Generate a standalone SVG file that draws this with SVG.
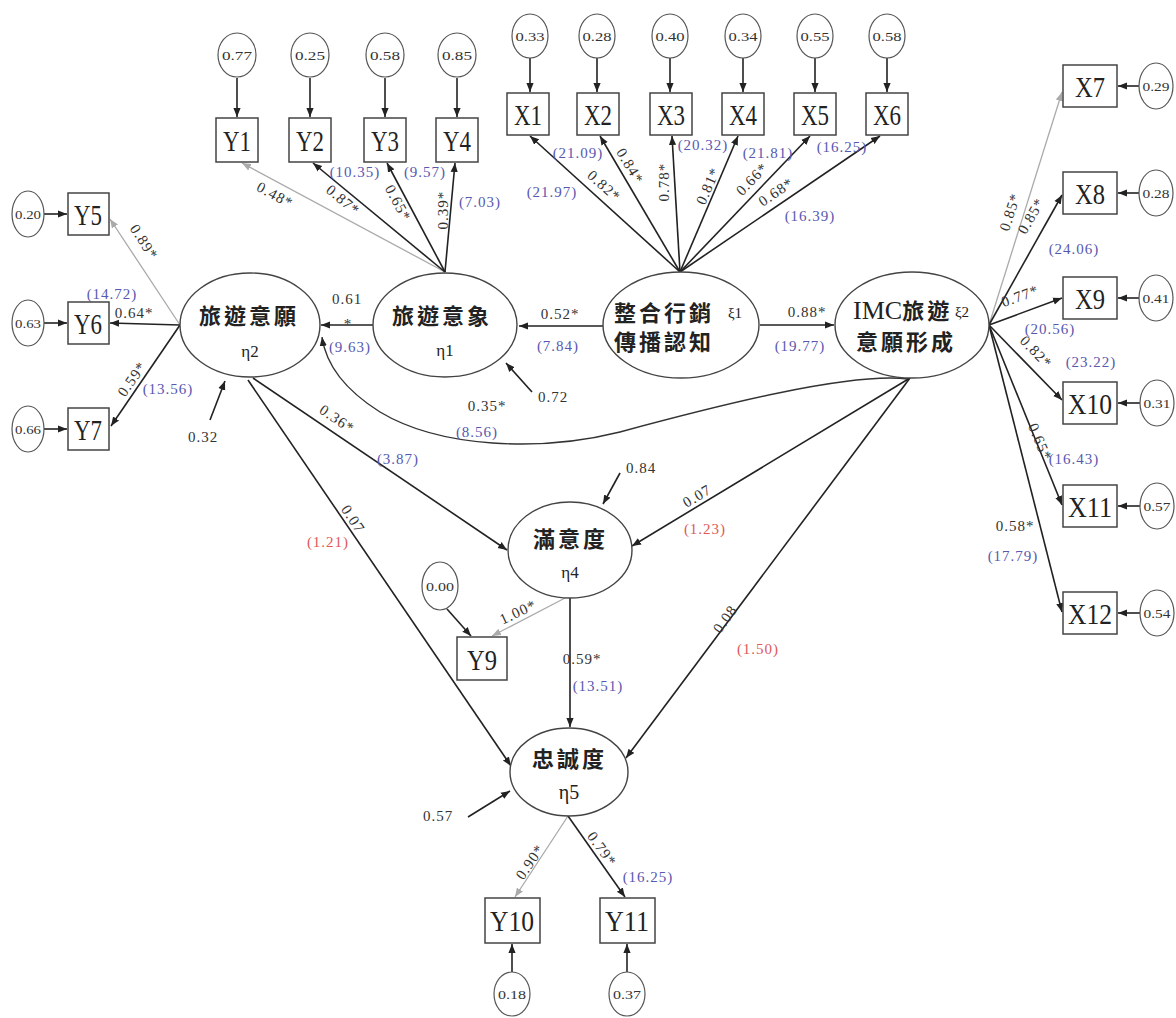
<svg xmlns="http://www.w3.org/2000/svg" width="1176" height="1018" viewBox="0 0 1176 1018">
  <defs>
    <marker id="ah" viewBox="0 0 10 10" refX="10" refY="5" markerWidth="9" markerHeight="9" markerUnits="userSpaceOnUse" orient="auto">
      <path d="M0,1 L10,5 L0,9 z" fill="#222"/>
    </marker>
    <marker id="ahg" viewBox="0 0 10 10" refX="10" refY="5" markerWidth="9" markerHeight="9" markerUnits="userSpaceOnUse" orient="auto">
      <path d="M0,1 L10,5 L0,9 z" fill="#aaa"/>
    </marker>
    <style>
      .lat { fill: #fff; stroke: #444; stroke-width: 1.4; }
      .err { fill: #fff; stroke: #555; stroke-width: 1.2; }
      .box { fill: #fff; stroke: #444; stroke-width: 1.5; }
      .ln { fill: none; stroke: #222; stroke-width: 1.6; marker-end: url(#ah); }
      .lg { fill: none; stroke: #aaa; stroke-width: 1.3; marker-end: url(#ahg); }
      .cur { fill: none; stroke: #333; stroke-width: 1.4; marker-end: url(#ah); }
      .bt { font-family: "Liberation Serif", serif; font-size: 30px; fill: #222; text-anchor: middle; }
      .et { font-family: "Liberation Serif", serif; font-size: 13px; fill: #333; text-anchor: middle; }
      .zh { font-family: "Noto Sans CJK TC", sans-serif; font-weight: 700; font-size: 22px; fill: #222; letter-spacing: 3px; }
      .mid { text-anchor: middle; }
      .gk { font-family: "Liberation Serif", serif; font-size: 17px; fill: #222; text-anchor: middle; }
      .v { font-family: "Liberation Serif", serif; font-size: 15px; fill: #333; text-anchor: middle; letter-spacing: 1px; }
      .b { fill: #5858b0; }
      .r { fill: #e05858; }
    </style>
  </defs>

  <!-- connectors -->
  <g id="connectors">
    <!-- error terms to indicators -->
    <path class="ln" d="M237,78 V117"/>
    <path class="ln" d="M310,78 V117"/>
    <path class="ln" d="M385,78 V117"/>
    <path class="ln" d="M457,78 V117"/>
    <path class="ln" d="M530,58 V92"/>
    <path class="ln" d="M597,58 V92"/>
    <path class="ln" d="M670,58 V92"/>
    <path class="ln" d="M743,58 V92"/>
    <path class="ln" d="M815,58 V92"/>
    <path class="ln" d="M887,58 V92"/>
    <path class="ln" d="M1139,86 H1118"/>
    <path class="ln" d="M1139,193 H1118"/>
    <path class="ln" d="M1139,298 H1118"/>
    <path class="ln" d="M1140,403 H1118"/>
    <path class="ln" d="M1140,506 H1118"/>
    <path class="ln" d="M1140,613 H1118"/>
    <path class="ln" d="M44,214 H67"/>
    <path class="ln" d="M44,323 H67"/>
    <path class="ln" d="M44,429 H67"/>
    <path class="ln" d="M512,972 V944"/>
    <path class="ln" d="M627,972 V944"/>
    <path class="ln" d="M447,609 L471,636"/>

    <!-- loadings of η1 -->
    <path class="lg" d="M445,272 L242,163"/>
    <path class="ln" d="M445,272 L313,163"/>
    <path class="ln" d="M445,272 L387,163"/>
    <path class="ln" d="M445,272 L455,163"/>

    <!-- loadings of ξ1 -->
    <path class="ln" d="M680,272 L530,136"/>
    <path class="ln" d="M680,272 L600,136"/>
    <path class="ln" d="M680,272 L672,136"/>
    <path class="ln" d="M680,272 L738,136"/>
    <path class="ln" d="M680,272 L810,136"/>
    <path class="ln" d="M680,272 L880,136"/>

    <!-- loadings of η2 -->
    <path class="lg" d="M180,325 L110,219"/>
    <path class="ln" d="M180,325 L110,323"/>
    <path class="ln" d="M180,325 L111,426"/>

    <!-- loadings of ξ2 -->
    <path class="lg" d="M989,325 L1062,92"/>
    <path class="ln" d="M989,325 L1062,195"/>
    <path class="ln" d="M989,325 L1062,298"/>
    <path class="ln" d="M989,325 L1062,400"/>
    <path class="ln" d="M989,325 L1062,505"/>
    <path class="ln" d="M989,325 L1062,612"/>

    <!-- structural paths -->
    <path class="ln" d="M603,326 L519,326"/>
    <path class="ln" d="M760,325 L834,325"/>
    <path class="ln" d="M373,325 L321,325"/>
    <path class="cur" d="M908,379 C850,372 720,405 620,432 C540,452 440,448 380,412 C345,390 326,365 322,337"/>
    <path class="ln" d="M253,378 L507,550"/>
    <path class="ln" d="M248,380 L511,766"/>
    <path class="ln" d="M910,378 L632,546"/>
    <path class="ln" d="M910,378 L626,758"/>
    <path class="ln" d="M570,598 L570,727"/>

    <!-- loadings of η4 and η5 -->
    <path class="lg" d="M567,597 L492,636"/>
    <path class="lg" d="M568,816 L515,897"/>
    <path class="ln" d="M568,816 L625,897"/>

    <!-- disturbances -->
    <path class="ln" d="M532,392 L506,363"/>
    <path class="ln" d="M210,420 L225,381"/>
    <path class="ln" d="M620,473 L603,504"/>
    <path class="ln" d="M468,817 L510,791"/>
  </g>

  <!-- coefficient labels -->
  <g id="labels">
    <text class="v" transform="translate(275,195) rotate(28.6)" y="5">0.48*</text>
    <text class="v" transform="translate(343,200) rotate(40)" y="5">0.87*</text>
    <text class="v b" x="355" y="177">(10.35)</text>
    <text class="v" transform="translate(398,203) rotate(62)" y="5">0.65*</text>
    <text class="v b" x="425" y="177">(9.57)</text>
    <text class="v" transform="translate(443,210) rotate(-90)" y="5">0.39*</text>
    <text class="v b" x="480" y="207">(7.03)</text>

    <text class="v b" x="578" y="158">(21.09)</text>
    <text class="v" transform="translate(604,186) rotate(42)" y="5">0.82*</text>
    <text class="v b" x="552" y="197">(21.97)</text>
    <text class="v" transform="translate(630,166) rotate(59)" y="5">0.84*</text>
    <text class="v" transform="translate(664,182) rotate(-90)" y="5">0.78*</text>
    <text class="v b" x="703" y="150">(20.32)</text>
    <text class="v" transform="translate(708,186) rotate(-66)" y="5">0.81*</text>
    <text class="v b" x="768" y="158">(21.81)</text>
    <text class="v" transform="translate(752,179) rotate(-46)" y="5">0.66*</text>
    <text class="v" transform="translate(776,192) rotate(-34)" y="5">0.68*</text>
    <text class="v b" x="842" y="152">(16.25)</text>
    <text class="v b" x="810" y="221">(16.39)</text>

    <text class="v" transform="translate(1010,212) rotate(-72)" y="5">0.85*</text>
    <text class="v" transform="translate(1031,216) rotate(-60)" y="5">0.85*</text>
    <text class="v b" x="1074" y="254">(24.06)</text>
    <text class="v" transform="translate(1020,296) rotate(-20)" y="5">0.77*</text>
    <text class="v b" x="1050" y="334">(20.56)</text>
    <text class="v" transform="translate(1036,352) rotate(46)" y="5">0.82*</text>
    <text class="v b" x="1091" y="367">(23.22)</text>
    <text class="v" transform="translate(1040,442) rotate(67)" y="5">0.65*</text>
    <text class="v b" x="1074" y="464">(16.43)</text>
    <text class="v" x="1015" y="531">0.58*</text>
    <text class="v b" x="1013" y="561">(17.79)</text>

    <text class="v" transform="translate(144,242) rotate(57)" y="5">0.89*</text>
    <text class="v b" x="112" y="299">(14.72)</text>
    <text class="v" x="134" y="318">0.64*</text>
    <text class="v" transform="translate(132,379) rotate(-55)" y="5">0.59*</text>
    <text class="v b" x="168" y="394">(13.56)</text>

    <text class="v" x="347" y="304">0.61</text>
    <text class="v" x="348" y="329">*</text>
    <text class="v b" x="350" y="352">(9.63)</text>
    <text class="v" x="560" y="319">0.52*</text>
    <text class="v b" x="558" y="351">(7.84)</text>
    <text class="v" x="807" y="317">0.88*</text>
    <text class="v b" x="800" y="351">(19.77)</text>
    <text class="v" x="487" y="411">0.35*</text>
    <text class="v b" x="477" y="437">(8.56)</text>
    <text class="v" transform="translate(337,419) rotate(34)" y="5">0.36*</text>
    <text class="v b" x="398" y="464">(3.87)</text>
    <text class="v" transform="translate(353,519) rotate(56)" y="5">0.07</text>
    <text class="v r" x="328" y="547">(1.21)</text>
    <text class="v" transform="translate(697,496) rotate(-31)" y="5">0.07</text>
    <text class="v r" x="705" y="534">(1.23)</text>
    <text class="v" transform="translate(725,619) rotate(-54)" y="5">0.08</text>
    <text class="v r" x="758" y="654">(1.50)</text>
    <text class="v" transform="translate(518,612) rotate(-25)" y="5">1.00*</text>
    <text class="v" x="582" y="664">0.59*</text>
    <text class="v b" x="598" y="691">(13.51)</text>
    <text class="v" transform="translate(530,862) rotate(-56)" y="5">0.90*</text>
    <text class="v" transform="translate(602,849) rotate(54)" y="5">0.79*</text>
    <text class="v b" x="648" y="882">(16.25)</text>

    <text class="v" x="553" y="402">0.72</text>
    <text class="v" x="203" y="442">0.32</text>
    <text class="v" x="641" y="473">0.84</text>
    <text class="v" x="438" y="821">0.57</text>
  </g>

  <!-- latent variables -->
  <g id="eta2">
    <ellipse class="lat" cx="250" cy="325" rx="70" ry="52"/>
    <text class="zh" x="199" y="324">旅遊意願</text>
    <text class="gk" x="250" y="357">η2</text>
  </g>
  <g id="eta1">
    <ellipse class="lat" cx="445" cy="325" rx="72" ry="52"/>
    <text class="zh" x="392" y="324">旅遊意象</text>
    <text class="gk" x="445" y="356">η1</text>
  </g>
  <g id="xi1">
    <ellipse class="lat" cx="681" cy="325" rx="78" ry="53"/>
    <text class="zh" x="614" y="321">整合行銷</text>
    <text class="gk" x="735" y="318" style="font-size:15px">ξ1</text>
    <text class="zh" x="614" y="350">傳播認知</text>
  </g>
  <g id="xi2">
    <ellipse class="lat" cx="912" cy="325" rx="77" ry="53"/>
    <text class="zh" x="853" y="319"><tspan style="font-family:'Liberation Serif',serif;font-weight:400;font-size:26px;letter-spacing:0">IMC</tspan>旅遊</text>
    <text class="gk" x="962" y="317" style="font-size:15px">ξ2</text>
    <text class="zh" x="856" y="350">意願形成</text>
  </g>
  <g id="eta4">
    <ellipse class="lat" cx="570" cy="550" rx="62" ry="48"/>
    <text class="zh" x="533" y="547">滿意度</text>
    <text class="gk" x="570" y="578">η4</text>
  </g>
  <g id="eta5">
    <ellipse class="lat" cx="569" cy="772" rx="59" ry="44"/>
    <text class="zh" x="532" y="767">忠誠度</text>
    <text class="gk" x="569" y="799" style="font-size:20px">η5</text>
  </g>

  <!-- indicators of η1 -->
  <g id="Y1"><ellipse class="err" cx="237" cy="55" rx="19" ry="22"/><text class="et" x="237" y="60" textLength="30" lengthAdjust="spacingAndGlyphs">0.77</text><rect class="box" x="216" y="118" width="42" height="44"/><text class="bt" x="237" y="151" textLength="28" lengthAdjust="spacingAndGlyphs">Y1</text></g>
  <g id="Y2"><ellipse class="err" cx="310" cy="55" rx="19" ry="22"/><text class="et" x="310" y="60" textLength="30" lengthAdjust="spacingAndGlyphs">0.25</text><rect class="box" x="289" y="118" width="42" height="44"/><text class="bt" x="310" y="151" textLength="28" lengthAdjust="spacingAndGlyphs">Y2</text></g>
  <g id="Y3"><ellipse class="err" cx="385" cy="55" rx="19" ry="22"/><text class="et" x="385" y="60" textLength="30" lengthAdjust="spacingAndGlyphs">0.58</text><rect class="box" x="364" y="118" width="42" height="44"/><text class="bt" x="385" y="151" textLength="28" lengthAdjust="spacingAndGlyphs">Y3</text></g>
  <g id="Y4"><ellipse class="err" cx="457" cy="55" rx="19" ry="22"/><text class="et" x="457" y="60" textLength="30" lengthAdjust="spacingAndGlyphs">0.85</text><rect class="box" x="436" y="118" width="42" height="44"/><text class="bt" x="457" y="151" textLength="28" lengthAdjust="spacingAndGlyphs">Y4</text></g>

  <!-- indicators of ξ1 -->
  <g id="X1"><ellipse class="err" cx="530" cy="36" rx="18" ry="22"/><text class="et" x="530" y="41" textLength="29" lengthAdjust="spacingAndGlyphs">0.33</text><rect class="box" x="507" y="93" width="42" height="42"/><text class="bt" x="528" y="125" textLength="28" lengthAdjust="spacingAndGlyphs">X1</text></g>
  <g id="X2"><ellipse class="err" cx="597" cy="36" rx="18" ry="22"/><text class="et" x="597" y="41" textLength="29" lengthAdjust="spacingAndGlyphs">0.28</text><rect class="box" x="577" y="93" width="42" height="42"/><text class="bt" x="598" y="125" textLength="28" lengthAdjust="spacingAndGlyphs">X2</text></g>
  <g id="X3"><ellipse class="err" cx="670" cy="36" rx="18" ry="22"/><text class="et" x="670" y="41" textLength="29" lengthAdjust="spacingAndGlyphs">0.40</text><rect class="box" x="650" y="93" width="42" height="42"/><text class="bt" x="671" y="125" textLength="28" lengthAdjust="spacingAndGlyphs">X3</text></g>
  <g id="X4"><ellipse class="err" cx="743" cy="36" rx="18" ry="22"/><text class="et" x="743" y="41" textLength="29" lengthAdjust="spacingAndGlyphs">0.34</text><rect class="box" x="722" y="93" width="42" height="42"/><text class="bt" x="743" y="125" textLength="28" lengthAdjust="spacingAndGlyphs">X4</text></g>
  <g id="X5"><ellipse class="err" cx="815" cy="36" rx="18" ry="22"/><text class="et" x="815" y="41" textLength="29" lengthAdjust="spacingAndGlyphs">0.55</text><rect class="box" x="794" y="93" width="42" height="42"/><text class="bt" x="815" y="125" textLength="28" lengthAdjust="spacingAndGlyphs">X5</text></g>
  <g id="X6"><ellipse class="err" cx="887" cy="36" rx="18" ry="22"/><text class="et" x="887" y="41" textLength="29" lengthAdjust="spacingAndGlyphs">0.58</text><rect class="box" x="866" y="93" width="42" height="42"/><text class="bt" x="887" y="125" textLength="28" lengthAdjust="spacingAndGlyphs">X6</text></g>

  <!-- indicators of ξ2 -->
  <g id="X7"><rect class="box" x="1063" y="65" width="54" height="42"/><text class="bt" x="1090" y="97" textLength="30" lengthAdjust="spacingAndGlyphs">X7</text><ellipse class="err" cx="1156" cy="86" rx="17" ry="23"/><text class="et" x="1156" y="91" textLength="27" lengthAdjust="spacingAndGlyphs">0.29</text></g>
  <g id="X8"><rect class="box" x="1063" y="172" width="54" height="42"/><text class="bt" x="1090" y="204" textLength="30" lengthAdjust="spacingAndGlyphs">X8</text><ellipse class="err" cx="1156" cy="193" rx="17" ry="23"/><text class="et" x="1156" y="198" textLength="27" lengthAdjust="spacingAndGlyphs">0.28</text></g>
  <g id="X9"><rect class="box" x="1063" y="277" width="54" height="42"/><text class="bt" x="1090" y="309" textLength="30" lengthAdjust="spacingAndGlyphs">X9</text><ellipse class="err" cx="1156" cy="298" rx="17" ry="23"/><text class="et" x="1156" y="303" textLength="27" lengthAdjust="spacingAndGlyphs">0.41</text></g>
  <g id="X10"><rect class="box" x="1063" y="382" width="54" height="42"/><text class="bt" x="1090" y="414" textLength="44" lengthAdjust="spacingAndGlyphs">X10</text><ellipse class="err" cx="1157" cy="403" rx="17" ry="23"/><text class="et" x="1157" y="408" textLength="27" lengthAdjust="spacingAndGlyphs">0.31</text></g>
  <g id="X11"><rect class="box" x="1063" y="485" width="54" height="42"/><text class="bt" x="1090" y="517" textLength="44" lengthAdjust="spacingAndGlyphs">X11</text><ellipse class="err" cx="1157" cy="506" rx="17" ry="23"/><text class="et" x="1157" y="511" textLength="27" lengthAdjust="spacingAndGlyphs">0.57</text></g>
  <g id="X12"><rect class="box" x="1063" y="592" width="54" height="42"/><text class="bt" x="1090" y="624" textLength="44" lengthAdjust="spacingAndGlyphs">X12</text><ellipse class="err" cx="1157" cy="613" rx="17" ry="23"/><text class="et" x="1157" y="618" textLength="27" lengthAdjust="spacingAndGlyphs">0.54</text></g>

  <!-- indicators of η2 -->
  <g id="Y5"><ellipse class="err" cx="28" cy="214" rx="16" ry="23"/><text class="et" x="28" y="219" textLength="26" lengthAdjust="spacingAndGlyphs">0.20</text><rect class="box" x="68" y="193" width="41" height="42"/><text class="bt" x="88" y="225" textLength="28" lengthAdjust="spacingAndGlyphs">Y5</text></g>
  <g id="Y6"><ellipse class="err" cx="28" cy="323" rx="16" ry="23"/><text class="et" x="28" y="328" textLength="26" lengthAdjust="spacingAndGlyphs">0.63</text><rect class="box" x="68" y="302" width="41" height="42"/><text class="bt" x="88" y="334" textLength="28" lengthAdjust="spacingAndGlyphs">Y6</text></g>
  <g id="Y7"><ellipse class="err" cx="28" cy="429" rx="16" ry="23"/><text class="et" x="28" y="434" textLength="26" lengthAdjust="spacingAndGlyphs">0.66</text><rect class="box" x="68" y="408" width="41" height="42"/><text class="bt" x="88" y="440" textLength="28" lengthAdjust="spacingAndGlyphs">Y7</text></g>

  <!-- indicator of η4 -->
  <g id="Y9"><ellipse class="err" cx="440" cy="586" rx="18" ry="24"/><text class="et" x="440" y="591" textLength="28" lengthAdjust="spacingAndGlyphs">0.00</text><rect class="box" x="457" y="637" width="50" height="43"/><text class="bt" x="482" y="670" textLength="30" lengthAdjust="spacingAndGlyphs">Y9</text></g>

  <!-- indicators of η5 -->
  <g id="Y10"><rect class="box" x="485" y="898" width="55" height="45"/><text class="bt" x="512" y="931" textLength="44" lengthAdjust="spacingAndGlyphs">Y10</text><ellipse class="err" cx="512" cy="994" rx="18" ry="22"/><text class="et" x="512" y="999" textLength="28" lengthAdjust="spacingAndGlyphs">0.18</text></g>
  <g id="Y11"><rect class="box" x="600" y="898" width="55" height="45"/><text class="bt" x="627" y="931" textLength="44" lengthAdjust="spacingAndGlyphs">Y11</text><ellipse class="err" cx="627" cy="994" rx="18" ry="22"/><text class="et" x="627" y="999" textLength="28" lengthAdjust="spacingAndGlyphs">0.37</text></g>
</svg>
